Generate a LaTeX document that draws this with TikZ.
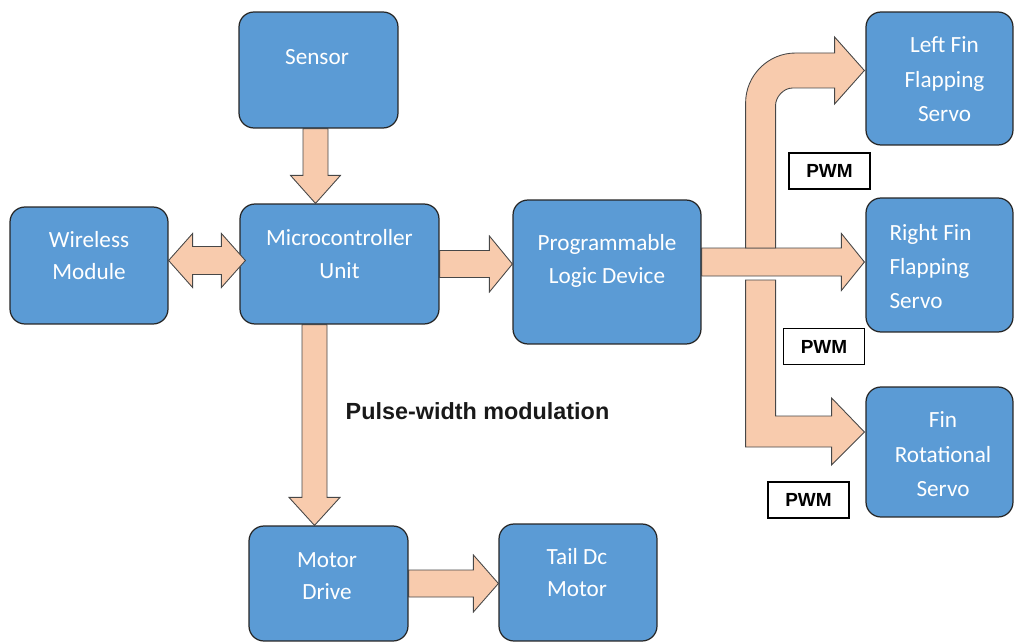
\documentclass[tikz,border=0pt]{standalone}
\usepackage{fontspec}
\setmainfont{Carlito}
\newfontfamily\pwmfont{Liberation Sans}
\usetikzlibrary{positioning,calc}
\definecolor{boxblue}{RGB}{91,155,213}
\definecolor{peach}{RGB}{248,203,173}
\definecolor{edge}{RGB}{38,38,38}

\begin{document}
\begin{tikzpicture}[x=0.02cm, y=-0.02cm,
  every node/.style={font=\fontsize{13.2}{18.5}\selectfont},
  block/.style={rectangle, rounded corners=8.5pt, draw=edge, line width=0.7pt, fill=boxblue, inner sep=0pt},
  blocktext/.style={text=white, align=center},
  servotext/.style={blocktext, font=\fontsize{13.2}{19.6}\selectfont},
  blockarrow/.style={fill=peach, draw=edge!85, line width=0.5pt, line join=miter},
  pwm/.style={rectangle, draw=black, fill=white, line width=0.6pt, minimum width=1.62cm, minimum height=0.72cm, font=\pwmfont\bfseries\fontsize{10.8}{12}\selectfont}
]
  \useasboundingbox (0,0) rectangle (1015,642);

  % blocks
  \node[block, minimum width=3.18cm, minimum height=2.32cm] (sensor) at (318.5,70) {};
  \node[block, minimum width=3.16cm, minimum height=2.34cm] (wireless) at (89,265.5) {};
  \node[block, minimum width=3.98cm, minimum height=2.40cm] (mcu) at (339.5,264) {};
  \node[block, minimum width=3.76cm, minimum height=2.88cm] (pld) at (607,272) {};
  \node[block, minimum width=2.94cm, minimum height=2.66cm] (leftfin) at (939.5,78.5) {};
  \node[block, minimum width=2.94cm, minimum height=2.68cm] (rightfin) at (939.5,265) {};
  \node[block, minimum width=2.94cm, minimum height=2.60cm] (rotfin) at (939.5,452) {};
  \node[block, minimum width=3.18cm, minimum height=2.30cm] (motordrive) at (328.5,583.5) {};
  \node[block, minimum width=3.16cm, minimum height=2.34cm] (tailmotor) at (578,582.5) {};

  \node[blocktext] (sensor-t) at ($(sensor)+(-1.5,-13)$) {Sensor};
  \node[blocktext] (wireless-t) at ($(wireless)+(0,-10)$) {Wireless\\Module};
  \node[blocktext] (mcu-t) at ($(mcu)+(0,-10)$) {Microcontroller\\Unit};
  \node[blocktext] (pld-t) at ($(pld)+(0,-11)$) {Programmable\\Logic Device};
  \node[servotext] (leftfin-t) at ($(leftfin)+(5,1)$) {Left Fin\\Flapping\\Servo};
  \node[servotext, align=left] (rightfin-t) at ($(rightfin)+(-9,1.5)$) {Right Fin\\Flapping\\Servo};
  \node[servotext] (rotfin-t) at ($(rotfin)+(3.5,2.5)$) {Fin\\Rotational\\Servo};
  \node[blocktext] (motordrive-t) at ($(motordrive)+(-1.5,-7.5)$) {Motor\\Drive};
  \node[blocktext] (tailmotor-t) at ($(tailmotor)+(-1,-10)$) {Tail Dc\\Motor};

  % block arrows
  \coordinate (sd) at ($(sensor.south)+(-3,0)$);
  \draw[blockarrow] ($(sd)+(-12.5,0)$) -- ($(sd |- mcu.north)+(-12.5,-28)$) -- ++(-12.5,0)
    -- (sd |- mcu.north) -- ++(25,-28) -- ++(-12.5,0) -- ($(sd)+(12.5,0)$) -- cycle;

  \coordinate (wl) at ($(wireless.east)+(0,-5)$);
  \coordinate (wr) at ($(mcu.west |- wl)+(6,0)$);
  \draw[blockarrow] (wl) -- ++(24,-27) -- ++(0,13) -- ($(wr)+(-24,-14)$) -- ++(0,-13) -- (wr)
    -- ++(-24,27) -- ++(0,-13) -- ($(wl)+(24,14)$) -- ++(0,13) -- cycle;

  \draw[blockarrow] ($(mcu.east)+(0,-13.5)$) -- ($(pld.west |- mcu.east)+(-23,-13.5)$) -- ++(0,-14.5)
    -- (pld.west |- mcu.east) -- ++(-23,28) -- ++(0,-14.5) -- ($(mcu.east)+(0,13.5)$) -- cycle;

  \coordinate (md) at ($(mcu.south)+(-25,0)$);
  \draw[blockarrow] ($(md)+(-12.5,0)$) -- ($(md |- motordrive.north)+(-12.5,-28)$) -- ++(-13,0)
    -- (md |- motordrive.north) -- ++(25.5,-28) -- ++(-13,0) -- ($(md)+(12.5,0)$) -- cycle;

  \draw[blockarrow] ($(motordrive.east)+(0,-13.5)$) -- ($(tailmotor.west |- motordrive.east)+(-25,-13.5)$) -- ++(0,-15)
    -- (tailmotor.west |- motordrive.east) -- ++(-25,28.5) -- ++(0,-15) -- ($(motordrive.east)+(0,13.5)$) -- cycle;

  \coordinate (pe) at ($(pld.east)+(0,-10)$);
  \draw[blockarrow] ($(pe)+(0,-14)$) -- ($(rightfin.west |- pe)+(-24,-14)$) -- ++(0,-14.5)
    -- ($(rightfin.west |- pe)+(-1,0)$) -- ++(-23,28.5) -- ++(0,-14.5) -- ($(pe)+(0,14)$) -- cycle;

  % branches up and down
  \coordinate (br) at ($(pe)+(59,0)$);
  \begin{scope}[shift={(br)}]
    \draw[blockarrow] (-15,-14) -- (-15,-159) .. controls (-15,-186.6) and (7.4,-209) .. (35,-209)
      -- (74,-209) -- (74,-225) -- ($(leftfin.west)+(-1,-8)$) -- (74,-158) -- (74,-174) -- (32,-174)
      .. controls (22.6,-174) and (15,-164.6) .. (15,-157) -- (15,-14) -- cycle;
    \draw[blockarrow] (-15,18) -- (-15,185) -- (71,185) -- (71,203) -- ($(rotfin.west)+(-1,-20)$)
      -- (71,136) -- (71,154) -- (15,154) -- (15,18) -- cycle;
  \end{scope}

  % labels
  \node[pwm] (pwm1) at (829.5,171) {PWM};
  \node[pwm] (pwm2) at (824,346.5) {PWM};
  \node[pwm] (pwm3) at (808.5,500) {PWM};
  \node[font=\pwmfont\bfseries\fontsize{13.3}{15}\selectfont, text=black!90] (pwmtext) at (477.5,411) {Pulse-width modulation};
\end{tikzpicture}
\end{document}
